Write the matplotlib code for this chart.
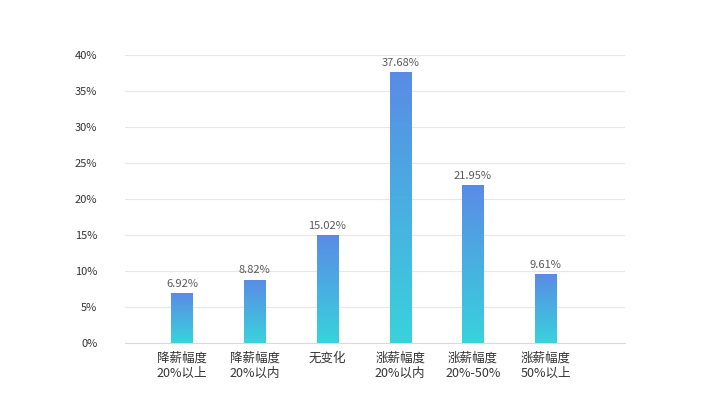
import matplotlib
matplotlib.use("Agg")
import matplotlib.pyplot as plt
import numpy as np
from matplotlib.colors import LinearSegmentedColormap

plt.rcParams['font.family'] = ['Noto Sans CJK SC', 'DejaVu Sans']

categories = ["降薪幅度\n20%以上", "降薪幅度\n20%以内", "无变化", "涨薪幅度\n20%以内", "涨薪幅度\n20%-50%", "涨薪幅度\n50%以上"]
values = [6.92, 8.82, 15.02, 37.68, 21.95, 9.61]
yticks = [0, 5, 10, 15, 20, 25, 30, 35, 40]

fig = plt.figure(figsize=(7.03, 4.18), dpi=100)
ax = fig.add_axes([0.178, 0.179, 0.711, 0.689])
cmap = LinearSegmentedColormap.from_list("g", ["#38d3dc", "#5a8be6"])
x = np.arange(len(categories))
w = 0.29
bars = ax.bar(x, values, width=w, color="none", zorder=3)
grad = np.linspace(0, 1, 256).reshape(-1, 1)
for b, v in zip(bars, values):
    x0 = b.get_x()
    im = ax.imshow(grad, extent=[x0, x0 + w, 0, v], origin="lower", aspect="auto", cmap=cmap, zorder=3)
    im.set_clip_path(b)
    ax.text(b.get_x() + w / 2, v + 0.6, f"{v:.2f}%", ha="center", va="bottom", fontsize=8, color="#595959", zorder=4)

ax.set_xlim(-0.78, 6.09)
ax.set_ylim(0, 40)
ax.set_yticks(yticks)
ax.set_yticklabels([f"{t}%" for t in yticks], fontsize=8, color="#333333")
ax.set_xticks(x)
ax.set_xticklabels(categories, fontsize=9, color="#333333", linespacing=1.2)
ax.yaxis.grid(True, color="#e6e6e6", linewidth=0.8, zorder=0)
for s in ax.spines.values():
    s.set_visible(False)
ax.spines['bottom'].set_visible(True)
ax.spines['bottom'].set_color("#d9d9d9")
ax.tick_params(length=0, pad=6)
ax.tick_params(axis='y', pad=20)
fig.savefig("out.png", dpi=100)
